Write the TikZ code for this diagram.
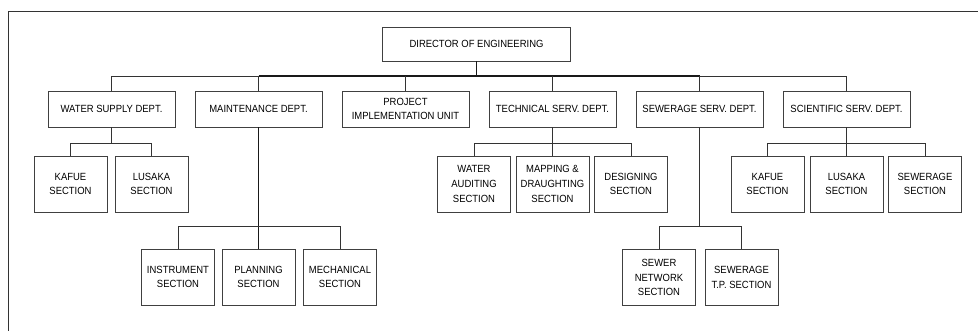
\documentclass[tikz,border=0pt]{standalone}
\usepackage{fontspec}
\setmainfont{Liberation Sans}[FakeStretch=0.91]
\begin{document}
\begin{tikzpicture}[x=1pt,y=-1pt,
  box/.style={draw=black!75, line width=0.8pt, inner sep=0pt, align=center,
    font=\fontsize{10.4}{14.7}\selectfont},
  dept/.style={box, minimum width=127pt, minimum height=36pt},
  sect/.style={box, minimum width=73pt, minimum height=56pt},
  link/.style={draw=black!80, line width=0.8pt},
  heavy/.style={draw=black!90, line width=1.4pt}]
\useasboundingbox (0,0) rectangle (978,331);
% page frame (top and left edges only)
\draw[black!80, line width=0.9pt] (978,11) -- (8,11) -- (8,331);

% top level
\node[box, minimum width=188pt, minimum height=34pt] (dir) at (476.5,44) {DIRECTOR OF ENGINEERING};

% departments
\node[dept] (ws)   at (111.5,109) {WATER SUPPLY DEPT.};
\node[dept] (mnt)  at (258.5,109) {MAINTENANCE DEPT.};
\node[dept] (prj)  at (405.5,109) {PROJECT\\IMPLEMENTATION UNIT};
\node[dept] (tech) at (552.5,109) {TECHNICAL SERV.\ DEPT.};
\node[dept] (sew)  at (699.5,109) {SEWERAGE SERV.\ DEPT.};
\node[dept] (sci)  at (846.5,109) {SCIENTIFIC SERV.\ DEPT.};

% sections
\node[sect] (kaf1) at (70.5,184)  {KAFUE\\SECTION};
\node[sect] (lus1) at (151.5,184) {LUSAKA\\SECTION};
\node[sect] (wa)   at (474,184)   {WATER\\AUDITING\\SECTION};
\node[sect] (map)  at (552.5,184) {MAPPING \&\\DRAUGHTING\\SECTION};
\node[sect] (des)  at (631,184)   {DESIGNING\\SECTION};
\node[sect] (kaf2) at (767.5,184) {KAFUE\\SECTION};
\node[sect] (lus2) at (846.5,184) {LUSAKA\\SECTION};
\node[sect] (sew2) at (925,184)   {SEWERAGE\\SECTION};
\node[sect] (ins)  at (178,277)   {INSTRUMENT\\SECTION};
\node[sect] (pla)  at (258.5,277) {PLANNING\\SECTION};
\node[sect] (mec)  at (340,277)   {MECHANICAL\\SECTION};
\node[sect] (net)  at (659,277.5) {SEWER\\NETWORK\\SECTION};
\node[sect] (tp)   at (741.5,277.5) {SEWERAGE\\T.P. SECTION};

% bus levels
\coordinate (bus)  at (0,76);
\coordinate (sub)  at (0,143);
\coordinate (low)  at (0,226);

% main bus
\path[link] (ws.north) -- (ws.north |- bus) -- (mnt.north |- bus);
\path[heavy] (mnt.north |- bus) -- (sew.north |- bus);
\path[link] (sew.north |- bus) -- (sci.north |- bus) -- (sci.north);
\path[heavy] (dir.south) -- (dir.south |- bus);
\foreach \d in {mnt,prj,tech,sew}
  \path[link] (\d.north) -- (\d.north |- bus);

% water supply sections
\path[link] (ws.south) -- (ws.south |- sub);
\path[link] (kaf1.north) -- (kaf1.north |- sub) -- (lus1.north |- sub) -- (lus1.north);

% technical sections
\path[link] (tech.south) -- (map.north);
\path[link] (wa.north) -- (wa.north |- sub) -- (des.north |- sub) -- (des.north);

% scientific sections
\path[link] (sci.south) -- (lus2.north);
\path[link] (kaf2.north) -- (kaf2.north |- sub) -- (sew2.north |- sub) -- (sew2.north);

% maintenance sections
\path[heavy] (mnt.south) -- (pla.north);
\path[link] (ins.north) -- (ins.north |- low) -- (mec.north |- low) -- (mec.north);

% sewerage sections
\path[link] (sew.south) -- (sew.south |- low);
\path[link] (net.north) -- (net.north |- low) -- (tp.north |- low) -- (tp.north);
\end{tikzpicture}
\end{document}
